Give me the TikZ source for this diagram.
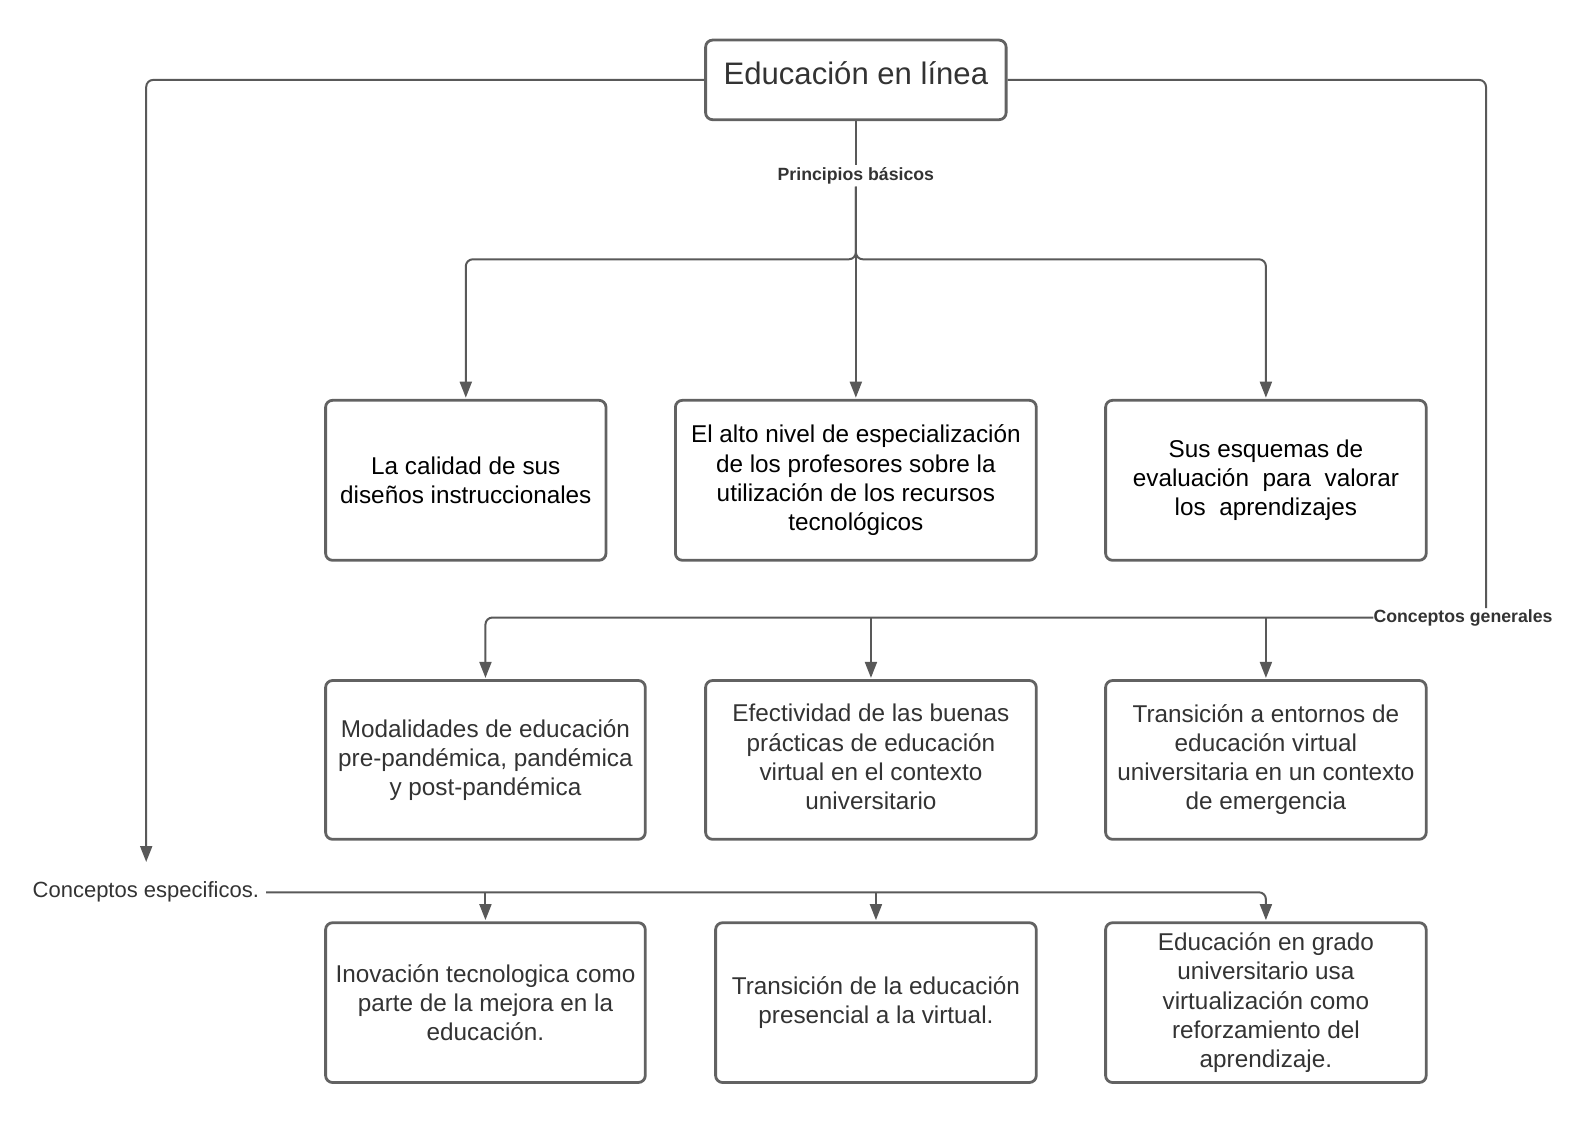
\documentclass[tikz,border=0pt]{standalone}
\usepackage{fontspec}
\setmainfont{Liberation Sans}
\usetikzlibrary{arrows.meta}
\definecolor{linec}{HTML}{595959}
\definecolor{boxc}{HTML}{626262}
\definecolor{txtc}{HTML}{333333}
\begin{document}
\begin{tikzpicture}[x=1pt,y=-1pt,
  box/.style={draw=boxc, line width=2.8pt, rounded corners=7pt, rectangle,
    align=center, text=txtc, font=\fontsize{24.3}{29.2}\selectfont, inner sep=0pt},
  conn/.style={draw=linec, line width=2pt, rounded corners=7pt},
  arr/.style={conn, -{Triangle[length=16pt,width=12pt]}, shorten >=1.2pt},
  lbl/.style={text=txtc, inner sep=0pt, font=\fontsize{17.7}{20}\selectfont\bfseries}
]
\useasboundingbox (0,0) rectangle (1576,1123);

% main node
\node[box, minimum width=300.5pt, minimum height=79.6pt, font=\fontsize{31.1}{34}\selectfont,
  text height=22pt, text depth=12pt] (main) at (855.85,79.9) {Educación en línea};

% row 1
\node[box, text=black, minimum width=280.4pt, minimum height=160pt] (A) at (465.8,480.3)
  {\raisebox{0pt}[0pt][0pt]{}La calidad de sus\\diseños instruccionales};
\node[box, text=black, minimum width=360.9pt, minimum height=160pt] (B) at (855.85,480.3)
  {El alto nivel de especialización\\de los profesores sobre la\\utilización de los recursos\\tecnológicos};
\node[box, text=black, minimum width=320.6pt, minimum height=160pt] (C) at (1265.9,480.3)
  {Sus esquemas de\\evaluación\ \ para\ \ valorar\\los\ \ aprendizajes};

% row 2
\node[box, minimum width=319.7pt, minimum height=158.8pt] (D) at (485.45,759.9)
  {Modalidades de educación\\pre-pandémica, pandémica\\y post-pandémica};
\node[box, minimum width=330.7pt, minimum height=158.8pt, text depth=6pt] (E) at (870.95,759.9)
  {Efectividad de las buenas\\prácticas de educación\\virtual en el contexto\\universitario};
\node[box, minimum width=320.6pt, minimum height=158.8pt, text depth=6pt] (F) at (1265.9,759.9)
  {Transición a entornos de\\educación virtual\\universitaria en un contexto\\de emergencia};

% row 3
\node[box, minimum width=319.7pt, minimum height=159.8pt] (G) at (485.45,1002.6)
  {Inovación tecnologica como\\parte de la mejora en la\\educación.};
\node[box, minimum width=320.7pt, minimum height=159.8pt] (H) at (875.95,1002.6)
  {Transición de la educación\\presencial a la virtual.};
\node[box, minimum width=320.6pt, minimum height=159.8pt] (I) at (1265.9,1002.6)
  {Educación en grado\\universitario usa\\virtualización como\\reforzamiento del\\aprendizaje.};

% labels
\node[lbl, inner sep=2pt] (lblP) at (855.85,176) {Principios básicos};
\node[lbl] (gen) at (1463,617.5) {Conceptos generales};
\node[text=txtc, inner sep=0pt, font=\fontsize{22}{25}\selectfont] (esp) at (145.8,892.3) {Conceptos especificos.};

\coordinate (jP) at (855.85,259.3);
\coordinate (lArr) at (146.2,862);
\coordinate (rTop) at (1486,608);

% principios
\draw[conn] (main.south) -- (lblP.north);
\draw[arr] (lblP.south) -- (jP) -| (A.north);
\draw[arr] (lblP.south) -- (jP) -| (C.north);
\draw[arr] (lblP.south) -- (B.north);

% generales
\draw[conn] (main.east) -| (rTop);
\draw[arr] (gen.west) -| (D.north);
\draw[arr] (E.north |- gen.west) -- (E.north);
\draw[arr] (F.north |- gen.west) -- (F.north);

% especificos
\draw[arr, shorten >=0pt] (main.west) -| (lArr);
\draw[arr, shorten <=7pt] (esp.east) -| (I.north);
\draw[arr] (G.north |- esp.east) -- (G.north);
\draw[arr] (H.north |- esp.east) -- (H.north);
\end{tikzpicture}
\end{document}
